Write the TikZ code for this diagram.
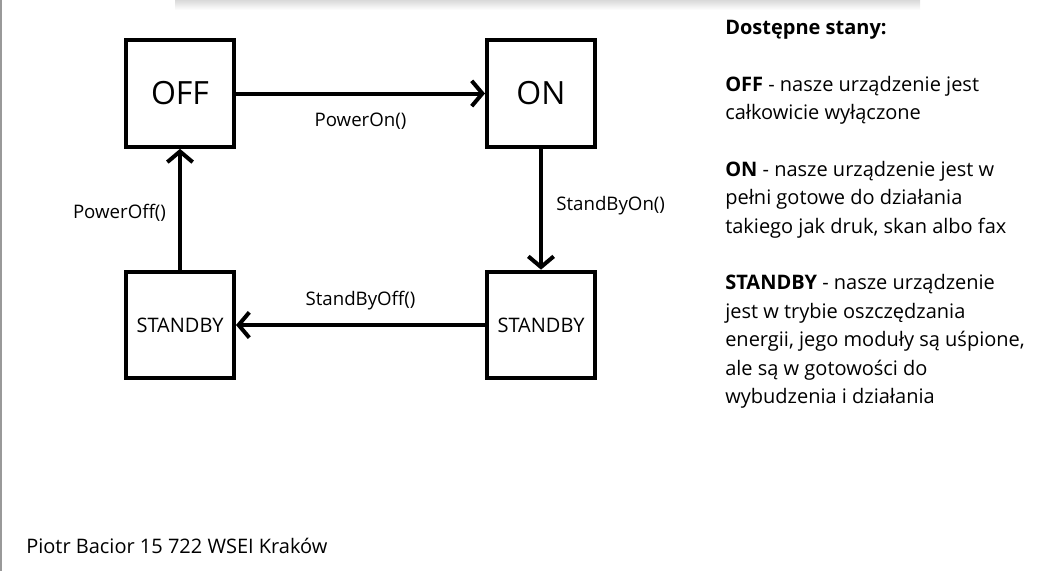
\documentclass[tikz,border=0pt]{standalone}
\usepackage{fontspec}
\setmainfont{Open Sans}
\usetikzlibrary{arrows.meta,positioning}

\begin{document}
\begin{tikzpicture}[x=0.75pt, y=-0.75pt,
    state/.style={draw, line width=3pt, minimum width=81pt, minimum height=80pt, inner sep=0pt},
    trans/.style={line width=3pt, -{Straight Barb[length=8pt, width=19pt]}},
    lbl/.style={inner sep=0pt, font=\fontsize{14}{16}\selectfont},
    txt/.style={inner sep=0pt, align=left, font=\fontsize{15}{21.3}\selectfont}]

\useasboundingbox (0, 0) rectangle (1038, 571);

% window edge and shadow
\shade[top color=gray!30, bottom color=white] (175, 0) rectangle (920, 10);
\draw[gray!80, line width=1.5pt] (0.75, 0) -- (0.75, 571);

\node[state, font=\fontsize{24}{28}\selectfont] (off) at (180, 93.5) {OFF};
\node[state, font=\fontsize{24}{28}\selectfont] (on) at (541, 93.5) {ON};
\node[state, font=\fontsize{15}{18}\selectfont] (sbleft) at (180, 325) {STANDBY};
\node[state, font=\fontsize{15}{18}\selectfont] (sbright) at (541, 325) {STANDBY};

\draw[trans] (off) -- node[lbl, below=13pt] {PowerOn()} (on);
\draw[trans] (on) -- node[lbl, right=10pt, yshift=3pt] {StandByOn()} (sbright);
\draw[trans] (sbright) -- node[lbl, above=10pt] {StandByOff()} (sbleft);
\draw[trans] (sbleft) -- node[lbl, left=9pt, yshift=-3pt] {PowerOff()} (off);

% last line sits on the base anchor
\node[txt, anchor=base west] (legend) at (725, 403.5) {\textbf{Dostępne stany:}\\[21.3pt]
\textbf{OFF} - nasze urządzenie jest\\
całkowicie wyłączone\\[21.3pt]
\textbf{ON} - nasze urządzenie jest w\\
pełni gotowe do działania\\
takiego jak druk, skan albo fax\\[21.3pt]
\textbf{STANDBY} - nasze urządzenie\\
jest w trybie oszczędzania\\
energii, jego moduły są uśpione,\\
ale są w gotowości do\\
wybudzenia i działania};

\node[txt, anchor=base west] (author) at (26, 553) {Piotr Bacior 15 722 WSEI Kraków};

\end{tikzpicture}
\end{document}
